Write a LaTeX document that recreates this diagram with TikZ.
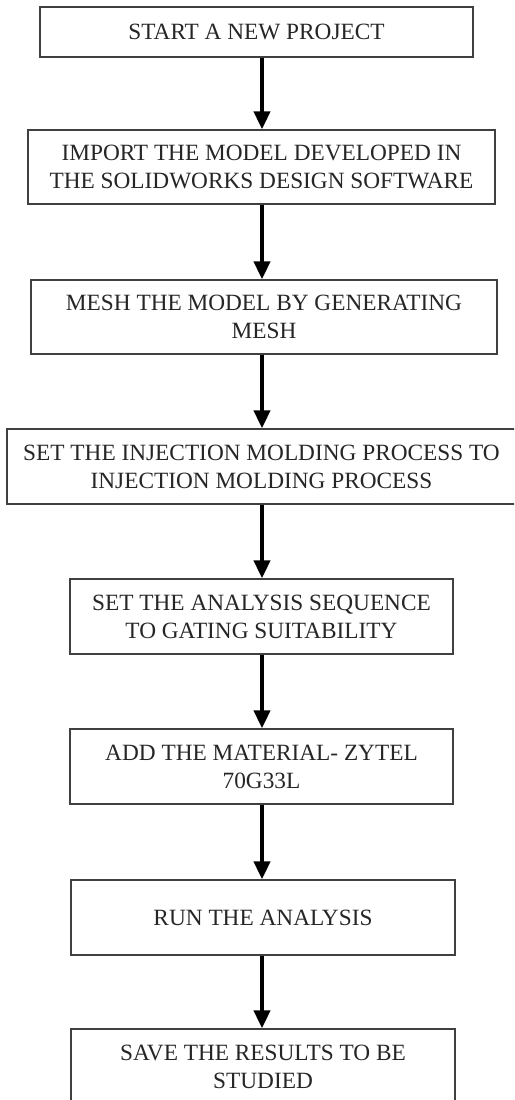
\documentclass[tikz,border=0pt]{standalone}
\usepackage{fontspec}
\setmainfont{Liberation Serif}
\usetikzlibrary{arrows.meta}
\begin{document}
\begin{tikzpicture}[x=1pt,y=-1pt,
  stepbox/.style={draw=black!75,line width=1.3pt,rectangle,inner sep=0pt,align=center,
    text=black!85,font=\fontsize{23.3}{28}\selectfont},
  arr/.style={line width=4pt,black,-{Triangle[width=16pt,length=18pt]}}]
\useasboundingbox (0,0) rectangle (514,1100);
\clip (0,0) rectangle (514,1100);
\fill[white] (0,0) rectangle (514,1100);
\coordinate (ax) at (262,0);
\node[stepbox,minimum width=433pt,minimum height=50pt] (b1) at (256.5,32) {START A NEW PROJECT};
\node[stepbox,minimum width=467pt,minimum height=74pt] (b2) at (261.5,167) {IMPORT THE MODEL DEVELOPED IN\\THE SOLIDWORKS DESIGN SOFTWARE};
\node[stepbox,minimum width=466pt,minimum height=74pt] (b3) at (264,317) {MESH THE MODEL BY GENERATING\\MESH};
\node[stepbox,minimum width=509pt,minimum height=75pt] (b4) at (261.5,466.5) {SET THE INJECTION MOLDING PROCESS TO\\INJECTION MOLDING PROCESS};
\node[stepbox,minimum width=383pt,minimum height=75pt] (b5) at (261.5,616.5) {SET THE ANALYSIS SEQUENCE\\TO GATING SUITABILITY};
\node[stepbox,minimum width=383pt,minimum height=75pt] (b6) at (261.5,766.5) {ADD THE MATERIAL- ZYTEL\\70G33L};
\node[stepbox,minimum width=384pt,minimum height=75pt] (b7) at (263,917.5) {RUN THE ANALYSIS};
\node[stepbox,minimum width=384pt,minimum height=76pt] (b8) at (263,1067) {SAVE THE RESULTS TO BE\\STUDIED};
\draw[arr] (b1.south -| ax) -- (b2.north -| ax);
\draw[arr] (b2.south -| ax) -- (b3.north -| ax);
\draw[arr] (b3.south -| ax) -- (b4.north -| ax);
\draw[arr] (b4.south -| ax) -- (b5.north -| ax);
\draw[arr] (b5.south -| ax) -- (b6.north -| ax);
\draw[arr] (b6.south -| ax) -- (b7.north -| ax);
\draw[arr] (b7.south -| ax) -- (b8.north -| ax);
\end{tikzpicture}
\end{document}
